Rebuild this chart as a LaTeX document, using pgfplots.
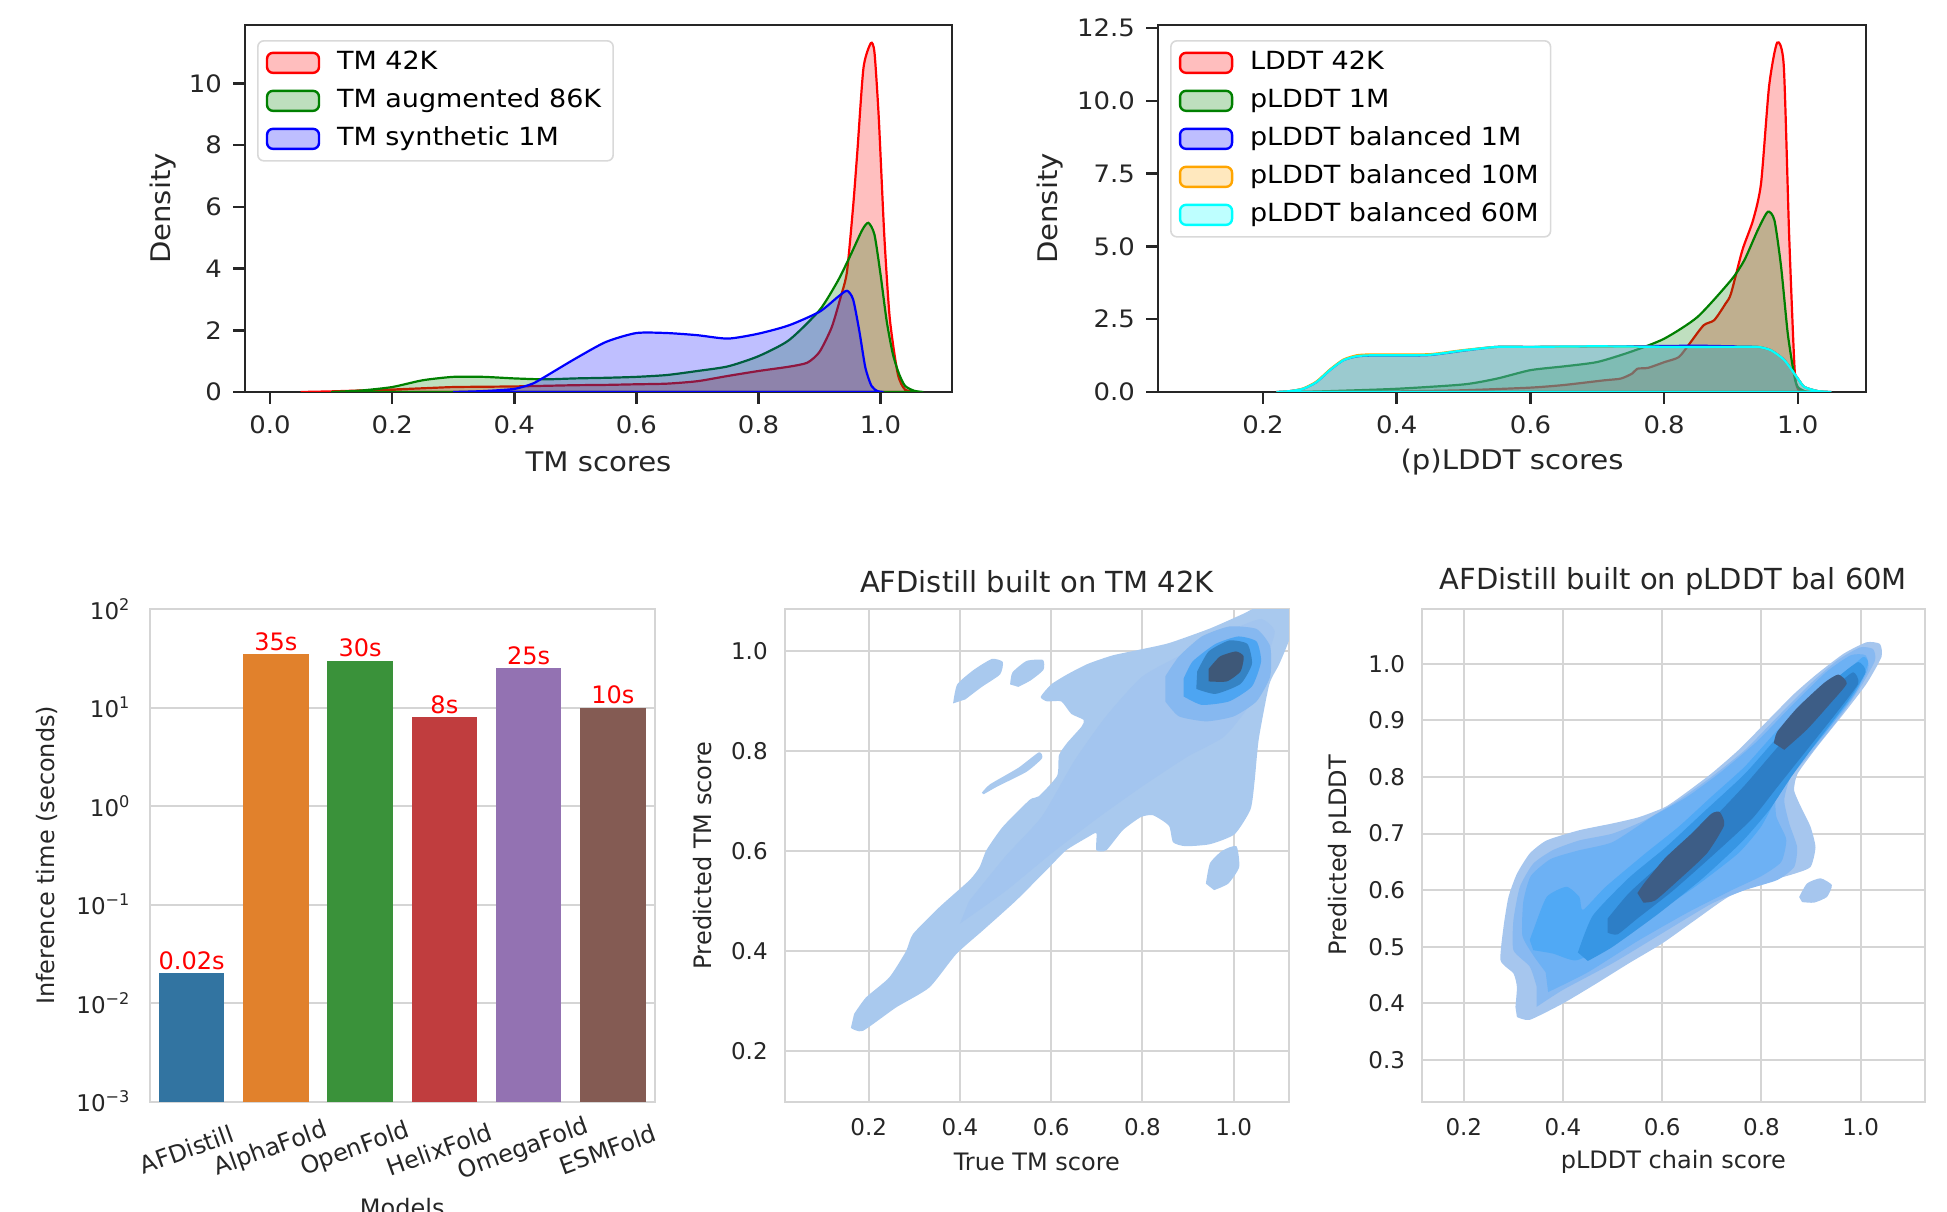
\documentclass[border=0pt]{standalone}
\usepackage{fontspec}
\setmainfont{DejaVu Sans}
\newfontfamily\topf[FakeStretch=1.08]{DejaVu Sans}
\usepackage{pgfplots}
\pgfplotsset{compat=1.18}

\definecolor{c26}{HTML}{262626}
\definecolor{cgrid}{HTML}{D5D5D5}
\definecolor{mgreen}{HTML}{008000}
\definecolor{morange}{HTML}{FFA500}
\definecolor{mcyan}{HTML}{00FFFF}
\definecolor{b1}{HTML}{3274A1}
\definecolor{b2}{HTML}{E1812C}
\definecolor{b3}{HTML}{3A923A}
\definecolor{b4}{HTML}{C03D3E}
\definecolor{b5}{HTML}{9372B2}
\definecolor{b6}{HTML}{845B53}
\definecolor{kA}{HTML}{A9C9EE}
\definecolor{kB}{HTML}{A3C5EF}
\definecolor{kC}{HTML}{86B8F0}
\definecolor{kD}{HTML}{4DA5F2}
\definecolor{kE}{HTML}{3583C4}
\definecolor{kF}{HTML}{3E5878}
\definecolor{pA}{HTML}{A6C6EE}
\definecolor{pB}{HTML}{88B9F1}
\definecolor{pBB}{HTML}{6DB1F4}
\definecolor{pC}{HTML}{50A9F5}
\definecolor{pD}{HTML}{3796E4}
\definecolor{pE}{HTML}{2D7EC6}
\definecolor{pF}{HTML}{3D5D86}

\newcommand\ftick{\topf\fontsize{12}{14}\selectfont}
\newcommand\fleg{\topf\fontsize{12.5}{15}\selectfont}
\newcommand\flab{\topf\fontsize{13.5}{16}\selectfont}
\newcommand\btick{\fontsize{11.5}{13}\selectfont}
\newcommand\blab{\fontsize{12}{14}\selectfont}
\newcommand\btitle{\fontsize{14.5}{17}\selectfont}

\pgfplotsset{
  topstyle/.style={
    scale only axis, clip=true,
    axis line style={c26, line width=1.25pt},
    tick style={c26, line width=1.25pt},
    major tick length=6pt, tick align=outside,
    xtick pos=left, ytick pos=left,
    ticklabel style={font=\ftick, text=c26},
    xticklabel style={yshift=-2.5pt},
    yticklabel style={xshift=-2pt},
    label style={font=\flab, text=c26},
    legend cell align=left,
    legend image code/.code={\draw[#1, line width=1.2pt] (0pt,-5pt) rectangle (26pt,5pt); \path[draw=none, fill=none] (0pt,0pt) -- (33pt,0pt);},
    legend style={anchor=north west, draw=black!15, line width=0.8pt, rounded corners=3pt,
      fill=white, fill opacity=0.8, text opacity=1, font=\fleg, row sep=3pt,
      inner xsep=4pt, inner ysep=3pt,
      nodes={inner sep=2pt, text height=9.5pt, text depth=2.5pt}},
  },
  botstyle/.style={
    scale only axis,
    axis line style={cgrid, line width=1pt},
    grid style={cgrid, line width=1pt},
    major tick length=0pt,
    ticklabel style={font=\btick, text=c26},
    label style={font=\blab, text=c26},
    title style={font=\btitle, text=c26},
  },
  kde/.style={draw=none, smooth, tension=0.35},
}

\begin{document}
\begin{tikzpicture}
\path[use as bounding box] (0pt,0pt) rectangle (973.5pt,605.5pt);

% ---------------- Panel 1 ----------------
\begin{axis}[topstyle,
  at={(122.5pt,409.5pt)}, anchor=south west, width=353.5pt, height=183.5pt,
  xmin=-0.041, xmax=1.117, ymin=0, ymax=11.89,
  xtick={0,0.2,0.4,0.6,0.8,1.0}, xticklabels={0.0,0.2,0.4,0.6,0.8,1.0},
  ytick={0,2,4,6,8,10}, yticklabels={0,2,4,6,8,10},
  xlabel={TM scores}, ylabel={Density},
  xlabel style={at={(axis description cs:0.5,-0.191)}, anchor=center},
  ylabel style={at={(axis description cs:-0.116,0.5)}, anchor=center},
  legend style={at={(0.017,0.959)}},
]
\addplot[draw=red, fill=red, fill opacity=0.25, line width=1.1pt, smooth, tension=0.4] coordinates {
(0.05,0) (0.1,0.02) (0.15,0.05) (0.2,0.08) (0.25,0.12) (0.3,0.16) (0.35,0.17) (0.4,0.18) (0.45,0.2) (0.5,0.22) (0.55,0.23) (0.6,0.25) (0.65,0.27) (0.7,0.35) (0.75,0.52) (0.8,0.68) (0.85,0.82) (0.88,0.95) (0.9,1.3) (0.92,2.1) (0.935,3.1) (0.945,3.9) (0.955,6.0) (0.962,7.8) (0.972,10.5) (0.984,11.3) (0.99,11.0) (0.997,8.9) (1.006,5.1) (1.015,2.4) (1.028,0.6) (1.04,0.08) (1.06,0)
} \closedcycle;
\addlegendentry{TM 42K}
\addplot[draw=mgreen, fill=mgreen, fill opacity=0.25, line width=1.1pt, smooth, tension=0.4] coordinates {
(0.1,0) (0.15,0.05) (0.2,0.16) (0.25,0.38) (0.3,0.49) (0.35,0.49) (0.4,0.44) (0.45,0.41) (0.5,0.44) (0.55,0.46) (0.6,0.49) (0.65,0.55) (0.7,0.68) (0.75,0.83) (0.8,1.16) (0.85,1.68) (0.9,2.65) (0.93,3.6) (0.95,4.4) (0.97,5.25) (0.98,5.48) (0.99,5.1) (1.0,3.8) (1.01,2.3) (1.02,1.24) (1.03,0.6) (1.04,0.2) (1.055,0.04) (1.07,0)
} \closedcycle;
\addlegendentry{TM augmented 86K}
\addplot[draw=blue, fill=blue, fill opacity=0.25, line width=1.1pt, smooth, tension=0.4] coordinates {
(0.3,0) (0.35,0.03) (0.4,0.1) (0.43,0.27) (0.45,0.49) (0.5,1.08) (0.55,1.62) (0.6,1.91) (0.65,1.91) (0.7,1.84) (0.75,1.73) (0.8,1.89) (0.85,2.16) (0.9,2.6) (0.93,3.08) (0.945,3.28) (0.955,3.0) (0.965,2.0) (0.975,0.8) (0.985,0.2) (0.995,0.03) (1.005,0)
} \closedcycle;
\addlegendentry{TM synthetic 1M}
\end{axis}

% ---------------- Panel 2 ----------------
\begin{axis}[topstyle,
  at={(579pt,409.5pt)}, anchor=south west, width=354pt, height=183.5pt,
  xmin=0.043, xmax=1.102, ymin=0, ymax=12.61,
  xtick={0.2,0.4,0.6,0.8,1.0}, xticklabels={0.2,0.4,0.6,0.8,1.0},
  ytick={0,2.5,5,7.5,10,12.5}, yticklabels={0.0,2.5,5.0,7.5,10.0,12.5},
  xlabel={(p)LDDT scores}, ylabel={Density},
  xlabel style={at={(axis description cs:0.5,-0.191)}, anchor=center},
  ylabel style={at={(axis description cs:-0.152,0.5)}, anchor=center},
  legend style={at={(0.017,0.959)}},
]
\addplot[draw=red, fill=red, fill opacity=0.25, line width=1.1pt, smooth, tension=0.4] coordinates {
(0.3,0) (0.4,0.02) (0.5,0.06) (0.6,0.15) (0.65,0.24) (0.71,0.4) (0.735,0.46) (0.752,0.63) (0.76,0.8) (0.776,0.83) (0.801,1.03) (0.822,1.2) (0.838,1.66) (0.859,2.29) (0.875,2.47) (0.892,3.04) (0.9,3.38) (0.917,4.87) (0.933,5.9) (0.945,7.17) (0.957,10.5) (0.969,12.0) (0.979,11.2) (0.987,5.4) (0.995,0.86) (1.0,0.11) (1.01,0)
} \closedcycle;
\addlegendentry{LDDT 42K}
\addplot[draw=mgreen, fill=mgreen, fill opacity=0.25, line width=1.1pt, smooth, tension=0.4] coordinates {
(0.25,0) (0.3,0.03) (0.4,0.11) (0.5,0.26) (0.55,0.46) (0.6,0.75) (0.65,0.88) (0.7,1.03) (0.75,1.38) (0.8,1.83) (0.85,2.58) (0.9,3.84) (0.92,4.53) (0.94,5.56) (0.955,6.19) (0.965,5.9) (0.975,4.3) (0.985,2.0) (0.995,0.52) (1.0,0.17) (1.01,0.03) (1.02,0)
} \closedcycle;
\addlegendentry{pLDDT 1M}
\addplot[draw=blue, fill=blue, fill opacity=0.25, line width=1.1pt, smooth, tension=0.4] coordinates {
(0.22,0) (0.24,0.03) (0.26,0.11) (0.28,0.34) (0.3,0.75) (0.32,1.09) (0.34,1.22) (0.36,1.25) (0.4,1.25) (0.45,1.27) (0.5,1.42) (0.55,1.55) (0.6,1.55) (0.7,1.56) (0.8,1.58) (0.85,1.59) (0.9,1.57) (0.94,1.55) (0.96,1.43) (0.98,1.09) (1.0,0.46) (1.01,0.17) (1.03,0.03) (1.05,0)
} \closedcycle;
\addlegendentry{pLDDT balanced 1M}
\addplot[draw=morange, fill=morange, fill opacity=0.25, line width=1.1pt, smooth, tension=0.4] coordinates {
(0.22,0) (0.24,0.03) (0.26,0.12) (0.28,0.36) (0.3,0.77) (0.32,1.11) (0.34,1.26) (0.36,1.29) (0.4,1.29) (0.45,1.3) (0.5,1.44) (0.55,1.55) (0.6,1.55) (0.7,1.56) (0.8,1.55) (0.9,1.55) (0.94,1.55) (0.96,1.43) (0.98,1.09) (1.0,0.46) (1.01,0.17) (1.03,0.03) (1.05,0)
} \closedcycle;
\addlegendentry{pLDDT balanced 10M}
\addplot[draw=mcyan, fill=mcyan, fill opacity=0.25, line width=1.1pt, smooth, tension=0.4] coordinates {
(0.22,0) (0.24,0.03) (0.26,0.11) (0.28,0.34) (0.3,0.75) (0.32,1.09) (0.34,1.23) (0.36,1.26) (0.4,1.26) (0.45,1.28) (0.5,1.43) (0.55,1.55) (0.6,1.55) (0.7,1.57) (0.8,1.55) (0.9,1.55) (0.94,1.55) (0.96,1.43) (0.98,1.09) (1.0,0.46) (1.01,0.17) (1.03,0.03) (1.05,0)
} \closedcycle;
\addlegendentry{pLDDT balanced 60M}
\end{axis}

% ---------------- Panel 3 (bars) ----------------
\begin{axis}[botstyle,
  at={(74.75pt,54.75pt)}, anchor=south west, width=252.75pt, height=246.25pt,
  ymode=log, log origin=infty,
  xmin=-0.5, xmax=5.5, ymin=1e-3, ymax=1e2,
  ymajorgrids, yminorticks=false,
  xtick={0,1,2,3,4,5},
  xticklabels={AFDistill,AlphaFold,OpenFold,HelixFold,OmegaFold,ESMFold},
  xticklabel style={yshift=-24pt, xshift=-2.5pt, rotate=20, anchor=center, font=\blab},
  ytick={1e-3,1e-2,1e-1,1,10,100},
  yticklabels={10\textsuperscript{−3},10\textsuperscript{−2},10\textsuperscript{−1},10\textsuperscript{0},10\textsuperscript{1},10\textsuperscript{2}},
  yticklabel style={xshift=-6pt},
  xlabel={Models}, ylabel={Inference time (seconds)},
  xlabel style={at={(axis description cs:0.5,-0.216)}, anchor=center},
  ylabel style={at={(axis description cs:-0.203,0.5)}, anchor=center},
  nodes near coords style={font=\blab, text=red, anchor=south, inner sep=1.5pt},
]
\addplot[ybar, bar shift=0pt, bar width=0.78, fill=b1, draw=none, nodes near coords, point meta=explicit symbolic] coordinates {(0,0.02) [0.02s]};
\addplot[ybar, bar shift=0pt, bar width=0.78, fill=b2, draw=none, nodes near coords, point meta=explicit symbolic] coordinates {(1,35) [35s]};
\addplot[ybar, bar shift=0pt, bar width=0.78, fill=b3, draw=none, nodes near coords, point meta=explicit symbolic] coordinates {(2,30) [30s]};
\addplot[ybar, bar shift=0pt, bar width=0.78, fill=b4, draw=none, nodes near coords, point meta=explicit symbolic] coordinates {(3,8) [8s]};
\addplot[ybar, bar shift=0pt, bar width=0.78, fill=b5, draw=none, nodes near coords, point meta=explicit symbolic] coordinates {(4,25) [25s]};
\addplot[ybar, bar shift=0pt, bar width=0.78, fill=b6, draw=none, nodes near coords, point meta=explicit symbolic] coordinates {(5,10) [10s]};
\end{axis}

% ---------------- Panel 4 (KDE TM) ----------------
\begin{axis}[botstyle,
  at={(392.35pt,54.75pt)}, anchor=south west, width=252.1pt, height=246.25pt,
  xmin=0.016, xmax=1.121, ymin=0.0987, ymax=1.085,
  xmajorgrids, ymajorgrids,
  xtick={0.2,0.4,0.6,0.8,1.0}, xticklabels={0.2,0.4,0.6,0.8,1.0},
  ytick={0.2,0.4,0.6,0.8,1.0}, yticklabels={0.2,0.4,0.6,0.8,1.0},
  xticklabel style={yshift=-5pt}, yticklabel style={xshift=-5pt},
  title={AFDistill built on TM 42K},
  title style={at={(axis description cs:0.5,1.031)}, anchor=center, yshift=0pt},
  xlabel={True TM score}, ylabel={Predicted TM score},
  xlabel style={at={(axis description cs:0.5,-0.123)}, anchor=center},
  ylabel style={at={(axis description cs:-0.162,0.5)}, anchor=center},
]
\addplot[kde, fill=kA] coordinates {
(0.161,0.246) (0.187,0.24) (0.26,0.287) (0.333,0.327) (0.392,0.394) (0.45,0.441) (0.523,0.501) (0.596,0.568) (0.633,0.602) (0.68,0.628) (0.699,0.636) (0.699,0.602) (0.721,0.602) (0.757,0.642) (0.796,0.668) (0.823,0.672) (0.858,0.651) (0.867,0.618) (0.894,0.61) (0.948,0.614) (1.002,0.634) (1.037,0.684) (1.046,0.742) (1.055,0.825) (1.078,0.934) (1.1,0.975) (1.125,1.033) (1.125,1.09) (1.056,1.09) (1.02,1.075) (0.948,1.046) (0.859,1.017) (0.796,1.004) (0.734,0.992) (0.68,0.975) (0.635,0.954) (0.6,0.934) (0.577,0.909) (0.591,0.9) (0.622,0.9) (0.644,0.875) (0.671,0.863) (0.667,0.85) (0.635,0.817) (0.617,0.792) (0.613,0.751) (0.573,0.71) (0.553,0.703) (0.494,0.649) (0.458,0.602) (0.443,0.568) (0.421,0.542) (0.355,0.488) (0.297,0.434) (0.282,0.4) (0.245,0.347) (0.194,0.307) (0.168,0.274)
};
\addplot[kde, fill=kA] coordinates {(0.385,0.896) (0.394,0.934) (0.43,0.963) (0.47,0.985) (0.494,0.979) (0.488,0.954) (0.448,0.929) (0.412,0.904)};
\addplot[kde, fill=kA] coordinates {(0.51,0.934) (0.515,0.958) (0.546,0.981) (0.582,0.983) (0.583,0.963) (0.555,0.942) (0.528,0.929)};
\addplot[kde, fill=kA] coordinates {(0.448,0.717) (0.466,0.734) (0.528,0.767) (0.573,0.798) (0.58,0.786) (0.546,0.759) (0.483,0.73) (0.452,0.714)};
\addplot[kde, fill=kA] coordinates {(0.939,0.535) (0.948,0.576) (0.975,0.601) (1.006,0.61) (1.012,0.568) (0.988,0.535) (0.957,0.522)};
\addplot[kde, fill=kB] coordinates {
(0.40,0.455) (0.5,0.52) (0.6,0.595) (0.7,0.665) (0.8,0.73) (0.9,0.79) (0.98,0.83) (1.04,0.9) (1.07,0.98) (1.09,1.04) (1.06,1.065) (1.0,1.045) (0.9,1.0) (0.8,0.95) (0.72,0.87) (0.65,0.78) (0.58,0.67) (0.5,0.59) (0.42,0.5)
};
\addplot[kde, fill=kC] coordinates {(0.85,0.9) (0.88,0.87) (0.94,0.86) (1.0,0.87) (1.05,0.9) (1.08,0.95) (1.08,1.01) (1.05,1.045) (0.99,1.05) (0.93,1.03) (0.88,0.99) (0.85,0.95)};
\addplot[kde, fill=kD] coordinates {(0.89,0.91) (0.93,0.893) (0.99,0.9) (1.04,0.93) (1.06,0.98) (1.05,1.02) (1.01,1.03) (0.96,1.015) (0.91,0.98) (0.89,0.945)};
\addplot[kde, fill=kE] coordinates {(0.918,0.925) (0.96,0.915) (1.015,0.935) (1.04,0.975) (1.03,1.015) (0.99,1.022) (0.945,1.0) (0.92,0.96)};
\addplot[kde, fill=kF] coordinates {(0.945,0.94) (0.985,0.94) (1.015,0.96) (1.022,0.99) (1.005,1.0) (0.97,0.99) (0.945,0.965)};
\end{axis}

% ---------------- Panel 5 (KDE pLDDT) ----------------
\begin{axis}[botstyle,
  at={(711pt,54.75pt)}, anchor=south west, width=251.3pt, height=246.25pt,
  xmin=0.1157, xmax=1.129, ymin=0.2267, ymax=1.0968,
  xmajorgrids, ymajorgrids,
  xtick={0.2,0.4,0.6,0.8,1.0}, xticklabels={0.2,0.4,0.6,0.8,1.0},
  ytick={0.3,0.4,0.5,0.6,0.7,0.8,0.9,1.0}, yticklabels={0.3,0.4,0.5,0.6,0.7,0.8,0.9,1.0},
  xticklabel style={yshift=-5pt}, yticklabel style={xshift=-5pt},
  title={AFDistill built on pLDDT bal 60M},
  title style={at={(axis description cs:0.5,1.031)}, anchor=center, yshift=0pt},
  xlabel={pLDDT chain score}, ylabel={Predicted pLDDT},
  xlabel style={at={(axis description cs:0.5,-0.123)}, anchor=center},
  ylabel style={at={(axis description cs:-0.163,0.5)}, anchor=center},
]
\addplot[kde, fill=pA] coordinates {
(0.307,0.376) (0.333,0.371) (0.4,0.4) (0.467,0.435) (0.533,0.471) (0.6,0.506) (0.666,0.547) (0.733,0.588) (0.8,0.612) (0.866,0.629) (0.899,0.641) (0.909,0.676) (0.899,0.712) (0.883,0.741) (0.866,0.776) (0.873,0.806) (0.912,0.853) (0.966,0.912) (1.012,0.965) (1.042,1.012) (1.039,1.035) (1.012,1.038) (0.966,1.018) (0.912,0.982) (0.866,0.947) (0.813,0.9) (0.753,0.847) (0.699,0.806) (0.646,0.771) (0.606,0.747) (0.553,0.729) (0.5,0.718) (0.433,0.706) (0.367,0.688) (0.333,0.665) (0.307,0.629) (0.29,0.588) (0.28,0.535) (0.274,0.476) (0.3,0.453) (0.307,0.429) (0.304,0.394)
};
\addplot[kde, fill=pA] coordinates {(0.876,0.588) (0.892,0.612) (0.919,0.621) (0.942,0.609) (0.932,0.588) (0.906,0.578) (0.882,0.579)};
\addplot[kde, fill=pB] coordinates {
(0.347,0.394) (0.4,0.424) (0.5,0.471) (0.6,0.524) (0.699,0.576) (0.766,0.6) (0.832,0.618) (0.866,0.641) (0.872,0.676) (0.856,0.718) (0.846,0.759) (0.859,0.8) (0.899,0.841) (0.953,0.9) (1.0,0.959) (1.029,1.006) (1.025,1.026) (0.999,1.029) (0.953,1.006) (0.899,0.965) (0.832,0.906) (0.766,0.847) (0.699,0.8) (0.633,0.759) (0.566,0.724) (0.5,0.7) (0.433,0.688) (0.38,0.671) (0.34,0.647) (0.313,0.606) (0.3,0.547) (0.3,0.494) (0.333,0.465) (0.347,0.429)
};
\addplot[kde, fill=pBB] coordinates {
(0.37,0.42) (0.45,0.455) (0.55,0.51) (0.65,0.56) (0.74,0.6) (0.8,0.625) (0.84,0.65) (0.85,0.69) (0.83,0.73) (0.83,0.77) (0.86,0.81) (0.92,0.87) (0.98,0.935) (1.015,0.99) (1.01,1.015) (0.98,1.015) (0.93,0.985) (0.86,0.925) (0.79,0.862) (0.72,0.81) (0.65,0.765) (0.58,0.73) (0.5,0.685) (0.43,0.67) (0.375,0.655) (0.335,0.625) (0.32,0.58) (0.318,0.52) (0.34,0.485) (0.365,0.455)
};
\addplot[kde, fill=pC] coordinates {
(0.333,0.512) (0.34,0.529) (0.367,0.588) (0.407,0.606) (0.433,0.588) (0.44,0.565) (0.486,0.606) (0.566,0.665) (0.633,0.712) (0.699,0.765) (0.766,0.818) (0.832,0.882) (0.899,0.935) (0.966,0.982) (1.005,1.012) (1.015,1.0) (0.992,0.953) (0.932,0.882) (0.872,0.818) (0.832,0.765) (0.799,0.712) (0.753,0.665) (0.666,0.606) (0.566,0.547) (0.486,0.5) (0.426,0.476) (0.38,0.488) (0.34,0.494)
};
\addplot[kde, fill=pD] coordinates {
(0.43,0.49) (0.46,0.555) (0.533,0.622) (0.606,0.675) (0.686,0.74) (0.766,0.805) (0.832,0.87) (0.899,0.93) (0.952,0.975) (0.995,1.003) (1.01,0.985) (0.975,0.935) (0.91,0.86) (0.86,0.8) (0.816,0.742) (0.76,0.685) (0.68,0.62) (0.59,0.557) (0.5,0.5) (0.45,0.475)
};
\addplot[kde, fill=pE] coordinates {
(0.49,0.55) (0.533,0.595) (0.6,0.648) (0.686,0.712) (0.766,0.785) (0.832,0.852) (0.899,0.915) (0.952,0.962) (0.985,0.985) (0.995,0.965) (0.95,0.912) (0.88,0.835) (0.83,0.78) (0.78,0.725) (0.7,0.66) (0.62,0.598) (0.55,0.55) (0.51,0.522) (0.49,0.525)
};
\addplot[kde, fill=pF] coordinates {(0.55,0.595) (0.566,0.615) (0.606,0.657) (0.659,0.7) (0.699,0.735) (0.716,0.738) (0.725,0.715) (0.69,0.665) (0.633,0.618) (0.586,0.582) (0.562,0.578)};
\addplot[kde, fill=pF] coordinates {(0.825,0.86) (0.832,0.88) (0.872,0.922) (0.926,0.966) (0.955,0.981) (0.972,0.965) (0.939,0.93) (0.892,0.884) (0.846,0.848)};
\end{axis}
\end{tikzpicture}
\end{document}
